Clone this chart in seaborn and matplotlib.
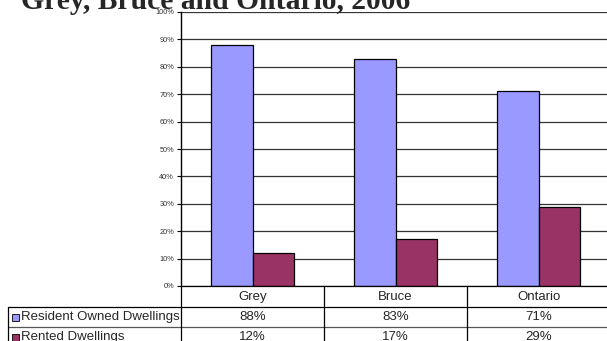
import matplotlib
matplotlib.use("Agg")
import matplotlib.pyplot as plt
import matplotlib.transforms as mtransforms
from matplotlib.lines import Line2D
from matplotlib.patches import Rectangle
import pandas as pd
import seaborn as sns

# Dwelling tenure by area
regions = ["Grey", "Bruce", "Ontario"]
series_names = ["Resident Owned Dwellings", "Rented Dwellings"]
owned = [88, 83, 71]
rented = [12, 17, 29]
y_ticks = [0, 10, 20, 30, 40, 50, 60, 70, 80, 90, 100]
title = "Grey, Bruce and Ontario, 2006"

colors = ["#9999FF", "#993366"]

df = pd.DataFrame({
    "region": regions * 2,
    "series": [series_names[0]] * 3 + [series_names[1]] * 3,
    "value": owned + rented,
})

W, H = 607, 341
fig = plt.figure(figsize=(W / 100, H / 100), dpi=100)
sns.set_style("white")
plt.rcParams["font.family"] = ["Liberation Sans", "DejaVu Sans"]

def fx(px):
    return px / W

def fy(py):
    return 1 - py / H

# plot area (runs off the right edge of the page)
left, right, top, bottom = 181, 610, 12, 286
ax = fig.add_axes([fx(left), fy(bottom), (right - left) / W, (bottom - top) / H])

sns.barplot(data=df, x="region", y="value", hue="series", order=regions,
            hue_order=series_names, palette=colors, width=0.575,
            edgecolor="black", linewidth=0.9, saturation=1, ax=ax,
            legend=False, zorder=3)

ax.set_xlim(-0.5, 2.5)
ax.set_ylim(0, 100)
ax.set_yticks(y_ticks)
ax.set_yticklabels([f"{t}%" for t in y_ticks], fontsize=5.3, color="#333333")
ax.set_xticks([])
ax.set_xlabel("")
ax.set_ylabel("")
ax.tick_params(axis="y", direction="out", length=3, width=0.8, pad=2,
               left=True, color="black")
ax.grid(axis="y", color="#333333", linewidth=0.9, zorder=0)
for side in ["top", "right", "bottom"]:
    ax.spines[side].set_visible(False)
ax.spines["left"].set_color("black")
ax.spines["left"].set_linewidth(1.0)

# data table beneath the plot
row_cat, row1, row2 = 297, 317, 337
line_kw = dict(color="black", linewidth=0.9, transform=fig.transFigure, clip_on=False)

fig.add_artist(Line2D([fx(left), 1], [fy(bottom), fy(bottom)], **line_kw))
fig.add_artist(Line2D([fx(8), 1], [fy(307), fy(307)], **line_kw))
fig.add_artist(Line2D([fx(8), 1], [fy(327), fy(327)], color="#555555",
                      linewidth=0.9, transform=fig.transFigure))
fig.add_artist(Line2D([fx(8), fx(8)], [fy(307), 0], **line_kw))
fig.add_artist(Line2D([fx(left), fx(left)], [fy(bottom), 0], **line_kw))

trans = mtransforms.blended_transform_factory(ax.transData, fig.transFigure)
for sep in [0.5, 1.5]:
    fig.add_artist(Line2D([sep, sep], [fy(bottom), 0], color="black",
                          linewidth=0.9, transform=trans))

for i, name in enumerate(regions):
    fig.text(i, fy(row_cat), name, transform=trans, ha="center", va="center",
             fontsize=9.5)
    fig.text(i, fy(row1), f"{owned[i]}%", transform=trans, ha="center",
             va="center", fontsize=9.5)
    fig.text(i, fy(row2), f"{rented[i]}%", transform=trans, ha="center",
             va="center", fontsize=9.5)

for name, col, yc in zip(series_names, colors, [row1, row2]):
    fig.add_artist(Rectangle((fx(12), fy(yc + 3.5)), 7 / W, 7 / H,
                             facecolor=col, edgecolor="black", linewidth=0.6,
                             transform=fig.transFigure))
    fig.text(fx(21), fy(yc), name, ha="left", va="center", fontsize=9.5)

fig.text(fx(21), fy(9), title, ha="left", va="baseline", fontsize=21.3,
         fontweight="bold", family=["Liberation Serif", "DejaVu Serif"])

fig.savefig("out.png", dpi=100)
